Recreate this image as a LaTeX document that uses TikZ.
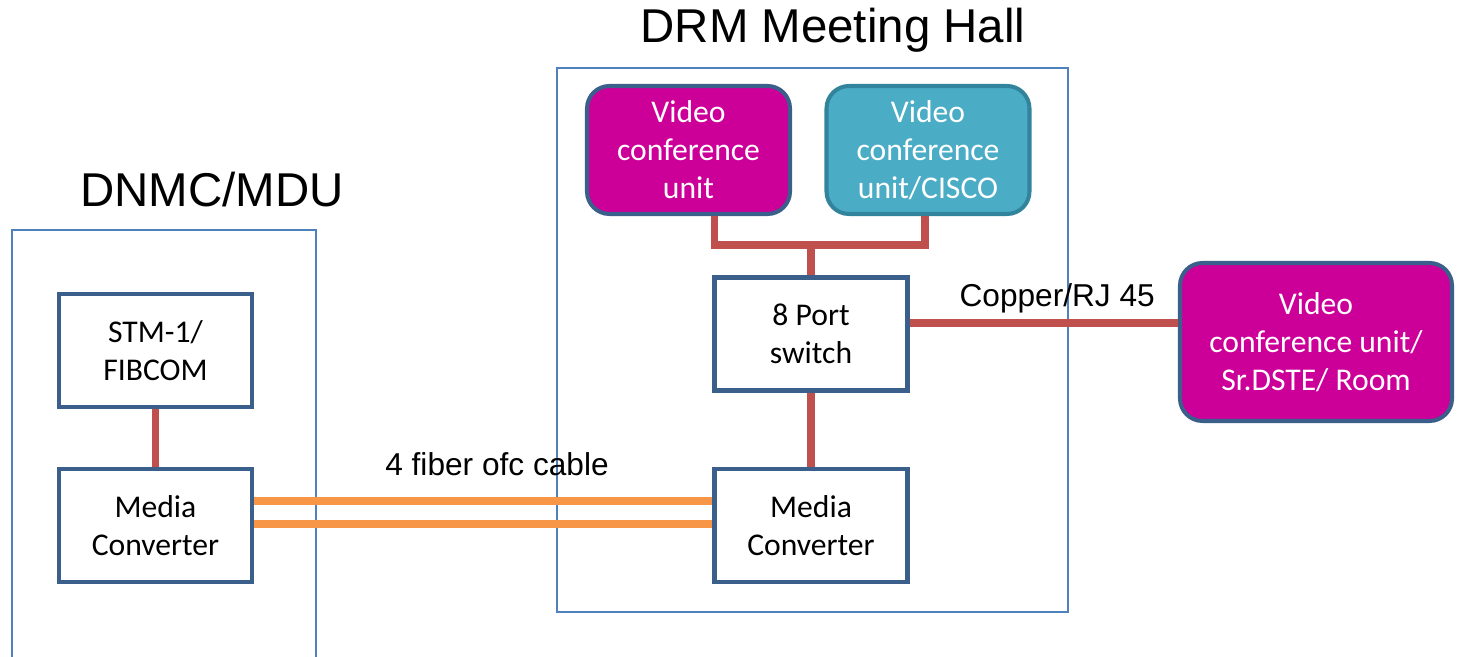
\documentclass[tikz,border=0pt]{standalone}
\usepackage{fontspec}
\setmainfont{Carlito}
\newfontfamily\arial{Liberation Sans}
\usepackage{tikz}

\definecolor{boxline}{HTML}{3A5F8B}
\definecolor{frameline}{HTML}{4F81BD}
\definecolor{magentabox}{HTML}{CC0099}
\definecolor{tealbox}{HTML}{4BACC6}
\definecolor{tealline}{HTML}{31849B}
\definecolor{copperred}{HTML}{C0504D}
\definecolor{fiberorange}{HTML}{F79646}

\begin{document}
\begin{tikzpicture}[
        device/.style={draw=boxline,line width=2.3pt,fill=white,align=center,font=\fontsize{18}{21.6}\selectfont,minimum width=38.6mm,minimum height=22.6mm},
        vcunit/.style={device,rounded corners=4.5mm,fill=magentabox,text=white,minimum width=40.6mm,minimum height=25.6mm},
        copper/.style={draw=copperred,line width=4.5pt},
        fiber/.style={draw=fiberorange,line width=4.5pt},
        frame/.style={draw=frameline,line width=0.8pt},
        title/.style={font=\arial\fontsize{27}{32}\selectfont},
        cablelabel/.style={font=\arial\fontsize{18}{21.6}\selectfont}
    ]

    \useasboundingbox (0,0) rectangle (29.18,13.14);

    % site frames
    \draw[frame] (0.24,0) |- (6.32,8.54) -- (6.32,0);
    \draw[frame] (11.14,0.9) rectangle (21.36,11.78);
    \node[title] (dnmc) at (4.24,9.34) {DNMC/MDU};
    \node[title] (drm) at (16.66,12.54) {DRM Meeting Hall};

    % DNMC/MDU side
    \node[device] (stm) at (3.11,6.13) {STM-1/\\FIBCOM};
    \node[device] (mcl) at (3.11,2.63) {Media\\Converter};

    % meeting hall side
    \node[vcunit] (vcu) at (13.77,10.14) {Video\\conference\\unit};
    \node[vcunit,draw=tealline,fill=tealbox] (cisco) at (18.56,10.14) {Video\\conference\\unit/CISCO};
    \node[device] (sw) at (16.22,6.46) {8 Port\\switch};
    \node[device] (mcr) at (16.22,2.63) {Media\\Converter};
    \node[vcunit,minimum width=54.4mm,minimum height=31.6mm] (room) at (26.32,6.3) {Video\\conference unit/\\Sr.DSTE/ Room};

    \coordinate (bus) at (16.22,8.24);

    \draw[copper] ([xshift=5.2mm]vcu.south) |- (bus) -| ([xshift=-0.6mm]cisco.south);
    \draw[copper] (bus) -- (sw.north);
    \draw[copper] (sw.south) -- (mcr.north);
    \draw[copper] (stm.south) -- (mcl.north);
    \draw[copper] ([yshift=2.2mm]sw.east) -- ([yshift=2.2mm]sw.east -| room.west) node[pos=0.55,above=0pt,cablelabel] {Copper/RJ 45};

    \draw[fiber] ([yshift=4.9mm]mcl.east) -- ([yshift=4.9mm]mcr.west) node[pos=0.53,above=3mm,cablelabel] {4 fiber ofc cable};
    \draw[fiber] ([yshift=0.3mm]mcl.east) -- ([yshift=0.3mm]mcr.west);

    \end{tikzpicture}
\end{document}
